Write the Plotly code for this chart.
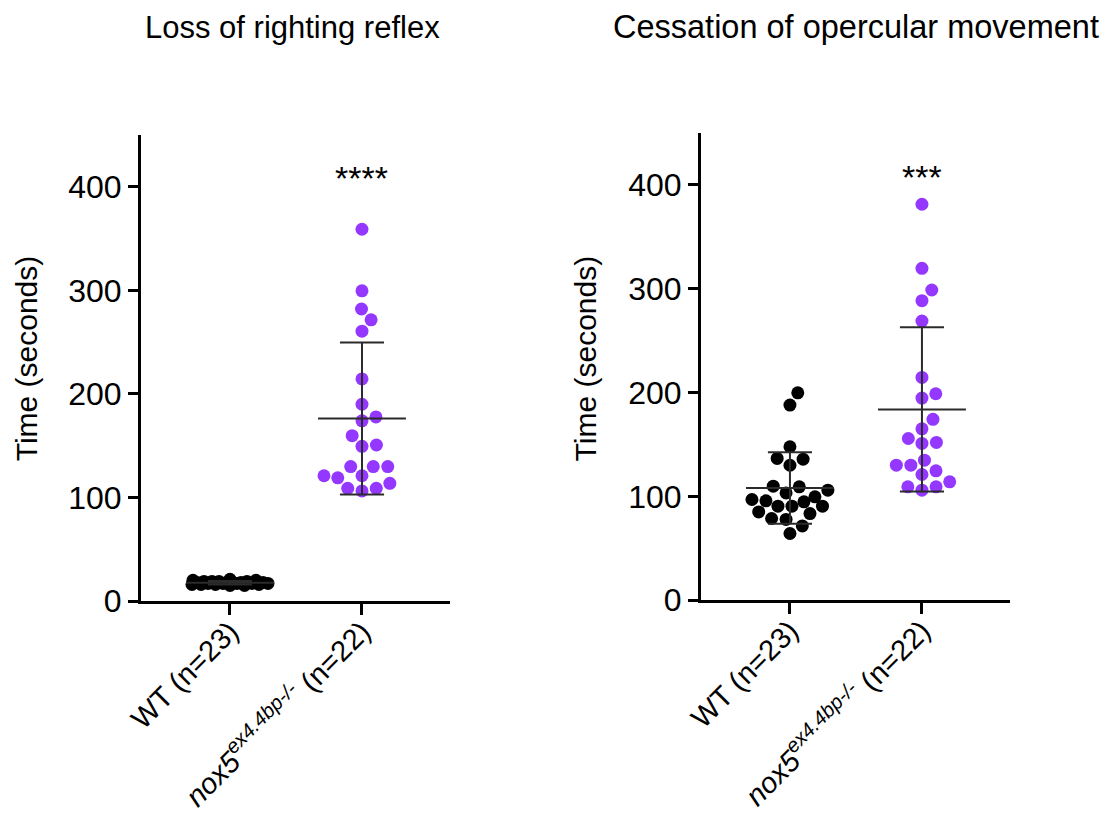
import math
import numpy as np
import plotly.graph_objects as go

# ---- data (seconds) ----
groups = ["WT (n=23)", "<i>nox5<sup>ex4.4bp-/-</sup></i> (n=22)"]

righting_wt = [18, 17, 16, 19, 15, 18, 20, 17, 16, 18, 19, 21, 17, 15, 18, 16,
               19, 20, 17, 18, 16, 19, 17]
righting_nox5 = [359, 299.5, 282, 271.5, 260.6, 214.5, 190, 177.8, 174, 159.7,
                 150.7, 149.4, 129.8, 129.8, 129.8, 119, 121, 121, 113.7,
                 108.8, 108.8, 106.3]

opercular_wt = [199.8, 188, 147.8, 135.9, 136.6, 130, 109.2, 109.9, 103.4, 106,
                97, 99.6, 95.7, 90.6, 90.6, 94.8, 90.6, 83.5, 85.1, 78.7, 77.8,
                71.6, 64.3]
opercular_nox5 = [381.4, 319.7, 298.8, 288.5, 268.9, 214.6, 198.9, 194.7, 174.2,
                  165.1, 151, 152, 155.8, 134.9, 121.1, 130.1, 124.6, 130.1,
                  106, 114, 109.2, 109.2]

panel_titles = ["Loss of righting reflex", "Cessation of opercular movement"]
significance = ["****", "***"]
y_ticks = [0, 100, 200, 300, 400]

BLACK = "#000000"
PURPLE = "#9437FF"
FONT = "Liberation Sans, Arial, Helvetica, sans-serif"

# pixel scale of each panel, used to lay the dots out as a swarm
PX_PER_X = 132.0
PX_PER_Y = 1.035
DOT = 13
GAP = 14.5
HALF_WIDTH = 38.0


def swarm_offsets(values):
    """Greedy beeswarm limited to a fixed width; dots overlap when crowded."""
    vals = list(values)
    order = sorted(range(len(vals)), key=lambda i: vals[i])
    placed = []
    offs = [0.0] * len(vals)

    def min_dist(c, y):
        if not placed:
            return float("inf")
        return min(math.hypot(c - xj, y - yj) for xj, yj in placed)

    for i in order:
        y = vals[i] * PX_PER_Y
        cands = [0.0]
        for xj, yj in placed:
            dy = abs(y - yj)
            if dy < GAP:
                dx = math.sqrt(GAP * GAP - dy * dy)
                cands += [xj + dx, xj - dx]
        cands = [c for c in cands if abs(c) <= HALF_WIDTH]
        cands.sort(key=lambda c: (abs(c), -c))
        chosen = None
        for c in cands:
            if min_dist(c, y) >= GAP - 1e-6:
                chosen = c
                break
        if chosen is None:
            grid = np.arange(-HALF_WIDTH, HALF_WIDTH + 0.01, 1.0)
            chosen = max(grid, key=lambda c: (round(min_dist(c, y), 3), -abs(c)))
            chosen = float(chosen)
        placed.append((chosen, y))
        offs[i] = chosen / PX_PER_X
    return offs


def mean_sd_trace(center, values, xa, ya):
    m = float(np.mean(values))
    s = float(np.std(values, ddof=1))
    xs = [center - 0.333, center + 0.333, None,
          center, center, None,
          center - 0.167, center + 0.167, None,
          center - 0.167, center + 0.167]
    ys = [m, m, None,
          m - s, m + s, None,
          m + s, m + s, None,
          m - s, m - s]
    return go.Scatter(x=xs, y=ys, mode="lines", xaxis=xa, yaxis=ya,
                      line=dict(color="#2b2b2b", width=2),
                      hoverinfo="skip", showlegend=False)


fig = go.Figure()
panels = [
    ("x", "y", [righting_wt, righting_nox5]),
    ("x2", "y2", [opercular_wt, opercular_nox5]),
]

for xa, ya, data in panels:
    for gi, (vals, col) in enumerate(zip(data, [BLACK, PURPLE])):
        offs = swarm_offsets(vals)
        fig.add_trace(go.Scatter(
            x=[gi + o for o in offs], y=vals, mode="markers",
            xaxis=xa, yaxis=ya, showlegend=False,
            marker=dict(color=col, size=DOT, line=dict(width=0)),
        ))
    for gi, vals in enumerate(data):
        fig.add_trace(mean_sd_trace(gi, vals, xa, ya))

x_common = dict(
    range=[-0.674, 1.667], tickvals=[0, 1], ticktext=groups, tickangle=-45,
    showline=True, linecolor=BLACK, linewidth=3, ticks="outside",
    ticklen=11, tickwidth=3, tickcolor=BLACK, showgrid=False, zeroline=False,
    automargin=False, ticklabelstandoff=-12,
    tickfont=dict(family=FONT, size=29, color=BLACK),
)
y_common = dict(
    range=[0, 450], tickvals=y_ticks, showline=True, linecolor=BLACK,
    linewidth=3, ticks="outside", ticklen=10, tickwidth=3, tickcolor=BLACK,
    showgrid=False, zeroline=False, automargin=False,
    tickfont=dict(family=FONT, size=32, color=BLACK),
)

fig.update_layout(
    width=1106, height=820,
    margin=dict(l=0, r=0, t=0, b=0, autoexpand=False),
    paper_bgcolor="white", plot_bgcolor="white",
    xaxis=dict(domain=[0.1275, 0.4069], anchor="y", **x_common),
    yaxis=dict(domain=[0.267, 0.8354], anchor="x", **y_common),
    xaxis2=dict(domain=[0.6338, 0.9132], anchor="y2", **x_common),
    yaxis2=dict(domain=[0.268, 0.8378], anchor="x2", **y_common),
)

annotations = []
for title, cx, fs in zip(panel_titles, [0.2649, 0.7740], [31, 32.5]):
    annotations.append(dict(text=title, x=cx, y=0.967, xref="paper",
                            yref="paper", showarrow=False, xanchor="center",
                            yanchor="middle",
                            font=dict(family=FONT, size=fs, color=BLACK)))
for ax_x in [0.0235, 0.529]:
    annotations.append(dict(text="Time (seconds)", x=ax_x, y=0.563,
                            xref="paper", yref="paper", showarrow=False,
                            textangle=-90, xanchor="center", yanchor="middle",
                            font=dict(family=FONT, size=30, color=BLACK)))
for sig, (xa, ya) in zip(significance, [("x", "y"), ("x2", "y2")]):
    annotations.append(dict(text=sig, x=1, y=408, xref=xa, yref=ya,
                            showarrow=False, xanchor="center",
                            yanchor="middle",
                            font=dict(family=FONT, size=34, color=BLACK)))
fig.update_layout(annotations=annotations)

fig.write_html("out.html")
